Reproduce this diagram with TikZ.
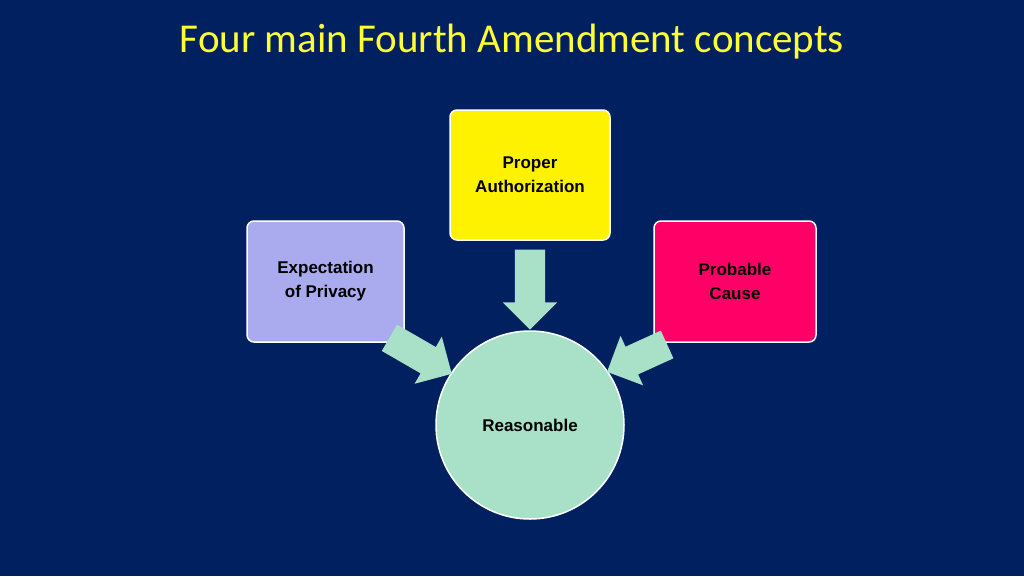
\documentclass[tikz,border=0pt]{standalone}
\usepackage{fontspec}
\setmainfont{Liberation Sans}
\newfontfamily\titlefont{Carlito}
\usetikzlibrary{shapes.arrows}
\definecolor{bg}{HTML}{002060}
\definecolor{ttl}{HTML}{FFFF33}
\definecolor{lav}{HTML}{AAAAEE}
\definecolor{pink}{HTML}{FF0066}
\definecolor{mint}{HTML}{A8E0C8}
\tikzset{
 box/.style={draw=white,line width=1.5pt,rounded corners=7pt,font=\bfseries\fontsize{17}{24}\selectfont,align=center,text=black},
 blk/.style={single arrow,fill=mint,draw=none,inner xsep=0pt,inner ysep=15pt,single arrow head extend=12pt,text height=0pt,text depth=0pt}
}
\begin{document}
\begin{tikzpicture}[x=1pt,y=-1pt]
\fill[bg] (0,0) rectangle (1024,576);
\useasboundingbox (0,0) rectangle (1024,576);
\node[text=ttl,font=\titlefont\fontsize{41}{48}\selectfont] (title) at (512,42) {Four main Fourth Amendment concepts};
\node[box,fill=yellow,minimum width=160pt,minimum height=130pt] (auth) at (530,175) {Proper\\Authorization};
\node[box,fill=lav,minimum width=157pt,minimum height=121pt] (exp) at (325.5,281.5) {Expectation\\of Privacy};
\node[box,fill=pink,minimum width=162pt,minimum height=121pt] (prob) at (735,281.5) {Probable\\Cause};
\node[circle,draw=white,line width=1.5pt,fill=mint,minimum size=188pt,font=\bfseries\fontsize{17}{24}\selectfont] (reas) at (530,425) {Reasonable};
\node[blk,minimum height=80pt,rotate=-90] (a1) at (530,282) {};
\node[blk,minimum height=72pt,rotate=-30] (a2) at (414,352) {};
\node[blk,minimum height=66pt,rotate=204.5] (a3) at (644,355) {};
\end{tikzpicture}
\end{document}
